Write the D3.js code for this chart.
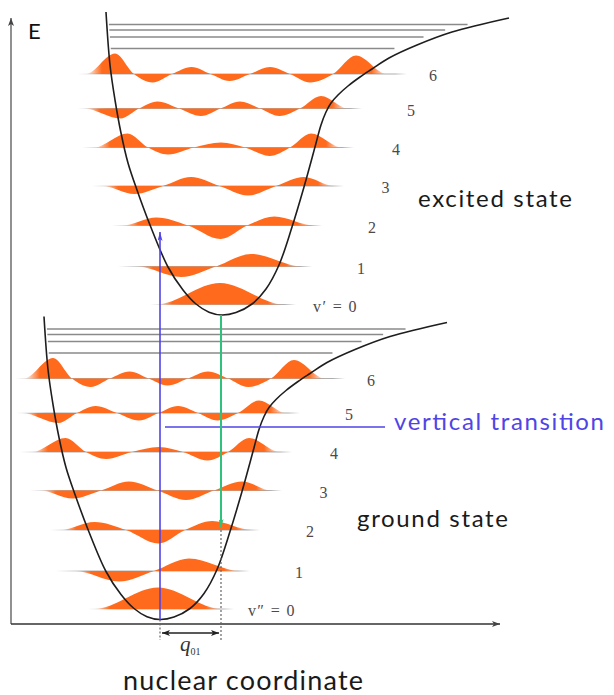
<!DOCTYPE html>
<html>
<head>
<meta charset="utf-8">
<script src="https://cdn.jsdelivr.net/npm/d3@7"></script>
<style>
  body { margin: 0; background: #fff; }
  svg { display: block; }
</style>
</head>
<body>
<svg></svg>
<script>
var width = 614;
var height = 695;
var svg = d3.select("svg")
            .attr("width", width)
            .attr("height", height);

// nuclear coordinate q and energy E, arbitrary units
var xScale = d3.scaleLinear().domain([0, 489]).range([11, 500]);
var yScale = d3.scaleLinear().domain([0, 606]).range([624, 18]);

// shape of both potential wells, relative to the minimum: [dq, dE]
var wellShape = [[-116, 303], [-112, 250], [-107, 215], [-101, 182], [-94, 152], [-85, 125],
                 [-72, 90], [-54, 48], [-39, 25], [-26, 11], [-13, 2.8], [0, 0], [14, 2.5],
                 [30, 11], [44, 26], [57, 50], [70, 88], [82, 128], [93, 168], [99, 190],
                 [104, 203], [109, 212], [116, 220], [126, 229], [138, 238], [150, 246],
                 [167, 257], [195, 270], [230, 283], [287, 297]];

var states = ["ground", "excited"];
var stateMinQ = [149, 211];
var stateMinE = [4.5, 309];
var stateZeroLabel = ["v\u2033 = 0", "v\u2032 = 0"];

// vibrational levels (energy above the well minimum)
var levels = [0, 1, 2, 3, 4, 5, 6];
var levelE = [10.5, 48.5, 89.5, 129, 167.5, 206.5, 241];
var upperLevelE = [266.5, 278, 285, 290.5];

// wavefunction lobes [dq, amplitude] and zero crossings, per level
var psiLobes = [
  [[-2, 21.5]],
  [[-41, -10.5], [29, 12.5]],
  [[-65.5, 8], [-1.5, -13.5], [52.5, 9]],
  [[-87.5, -8], [-31, 9], [26, -9.5], [82, 9]],
  [[-94.5, 14], [-54, -7], [-1, 5], [47.5, -8.5], [89, 14]],
  [[-101.5, -10], [-64.5, 7], [-21, -7.5], [18, 7], [57.5, -7.5], [99, 12.5]],
  [[-107, 20.5], [-69.5, -8.5], [-30.5, 7], [7.5, -7], [48, 7], [88, -8.5], [134, 18.5]]
];
var psiNodes = [
  [],
  [-6],
  [-34, 25],
  [-59, -2.5, 54],
  [-74, -28, 23, 68],
  [-83, -43, -1.5, 38, 78],
  [-88, -50, -11.5, 28, 68, 111]
];
var psiSpan = [[-66, 62], [-85, 80], [-100, 92], [-120, 112], [-128, 120], [-138, 126], [-136, 165]];
var lineSpan = [[-72, 74], [-104, 90], [-110, 100], [-130, 122], [-140, 132], [-144, 140], [-144, 185]];
var labelDq = [136, 139, 150, 163.5, 174, 189, 211];

// transitions
var verticalQ = 149, verticalTopE = 392, verticalLabelE = 197;
var relaxQ = 210, relaxBottomE = 96;
var q01E = -9, dottedBottomE = -16;

var orange = "#ff6a1c";
var blue = "#4f44e6";
var green = "#2fc27c";

var defs = svg.append("defs");

function arrowMarker(id, color, len, wid) {
  defs.append("marker")
      .attr("id", id)
      .attr("viewBox", "0 0 10 10")
      .attr("refX", 10).attr("refY", 5)
      .attr("markerUnits", "userSpaceOnUse")
      .attr("markerWidth", len).attr("markerHeight", wid)
      .attr("preserveAspectRatio", "none")
      .attr("orient", "auto-start-reverse")
    .append("path")
      .attr("d", "M0,0 L10,5 L0,10 L2.5,5 Z")
      .attr("fill", color);
}
arrowMarker("arrAxis", "#444", 8, 6);
arrowMarker("arrBlue", blue, 9, 5);
arrowMarker("arrGreen", green, 9, 5);
arrowMarker("arrBlack", "#222", 8, 6);

// axes
svg.append("line")
   .attr("x1", xScale(0)).attr("y1", yScale(0))
   .attr("x2", xScale(0)).attr("y2", yScale(606))
   .attr("stroke", "#555").attr("stroke-width", 1.3)
   .attr("marker-end", "url(#arrAxis)");
svg.append("line")
   .attr("x1", xScale(0)).attr("y1", yScale(0))
   .attr("x2", xScale(489)).attr("y2", yScale(0))
   .attr("stroke", "#333").attr("stroke-width", 1.5)
   .attr("marker-end", "url(#arrAxis)");

var wellLine = d3.line()
   .x(function(d) { return xScale(d[0]); })
   .y(function(d) { return yScale(d[1]); })
   .curve(d3.curveCatmullRom.alpha(0.5));

var psiArea = d3.area()
   .x(function(d) { return xScale(d[0]); })
   .y0(function(d) { return yScale(d[2]); })
   .y1(function(d) { return yScale(d[1]); })
   .curve(d3.curveMonotoneX);

// q of the well wall at height dE (linear between shape points)
function wallQ(dE, side) {
  var pts = wellShape.filter(function(p) { return side < 0 ? p[0] <= 0 : p[0] >= 0; });
  if (side < 0) pts = pts.slice().reverse();
  for (var i = 1; i < pts.length; i++) {
    if (pts[i][1] >= dE) {
      var t = (dE - pts[i - 1][1]) / (pts[i][1] - pts[i - 1][1]);
      return pts[i - 1][0] + t * (pts[i][0] - pts[i - 1][0]);
    }
  }
  return pts[pts.length - 1][0];
}

function fadeGradient(id, x1, x2, color, fadeL, fadeR, op) {
  var g = defs.append("linearGradient")
      .attr("id", id)
      .attr("gradientUnits", "userSpaceOnUse")
      .attr("x1", x1).attr("x2", x2).attr("y1", 0).attr("y2", 0);
  var w = x2 - x1;
  [[0, 0], [fadeL / w, op], [1 - fadeR / w, op], [1, 0]].forEach(function(s) {
    g.append("stop").attr("offset", s[0]).attr("stop-color", color).attr("stop-opacity", s[1]);
  });
}

states.forEach(function(state, s) {
  var q0 = stateMinQ[s], e0 = stateMinE[s];
  var g = svg.append("g").attr("class", state);

  // closely spaced upper levels
  upperLevelE.forEach(function(dE) {
    g.append("line")
     .attr("x1", xScale(q0 + wallQ(dE, -1) + 2))
     .attr("x2", xScale(q0 + wallQ(dE, 1)) - 15)
     .attr("y1", yScale(e0 + dE)).attr("y2", yScale(e0 + dE))
     .attr("stroke", "#8a8a8a").attr("stroke-width", 1.3);
  });

  levels.forEach(function(v, i) {
    var base = e0 + levelE[i];
    var lx1 = xScale(q0 + lineSpan[i][0]), lx2 = xScale(q0 + lineSpan[i][1]);
    fadeGradient("base-" + state + v, lx1, lx2, "#9a9a9a", 30, 12, 0.8);
    g.append("line")
     .attr("x1", lx1).attr("x2", lx2)
     .attr("y1", yScale(base)).attr("y2", yScale(base))
     .attr("stroke", "url(#base-" + state + v + ")").attr("stroke-width", 1.2);

    var pts = [[lineSpan[i][0], 0], [psiSpan[i][0], 0]];
    psiLobes[i].forEach(function(l, k) {
      pts.push(l);
      if (k < psiNodes[i].length) pts.push([psiNodes[i][k], 0]);
    });
    pts.push([psiSpan[i][1], 0], [lineSpan[i][1], 0]);
    var data = pts.map(function(p) { return [q0 + p[0], base + p[1], base]; });

    var px1 = xScale(q0 + psiSpan[i][0]), px2 = xScale(q0 + psiSpan[i][1]);
    fadeGradient("psi-" + state + v, px1, px2, orange, 16, 16, 1);
    g.append("path")
     .datum(data)
     .attr("d", psiArea)
     .attr("fill", "url(#psi-" + state + v + ")");

    var lbl = g.append("text")
     .attr("x", xScale(q0 + labelDq[i]))
     .attr("y", yScale(base) + 7)
     .attr("font-family", "'Liberation Serif', 'DejaVu Serif', serif")
     .attr("font-size", 16)
     .attr("fill", "#4a4a4a");
    if (v === 0) {
      lbl.attr("text-anchor", "end").attr("letter-spacing", 1.4)
         .text(stateZeroLabel[s]);
    } else {
      lbl.attr("text-anchor", "middle").text(v);
    }
  });

  g.append("path")
   .datum(wellShape.map(function(p) { return [q0 + p[0], e0 + p[1]]; }))
   .attr("d", wellLine)
   .attr("fill", "none")
   .attr("stroke", "#1e1e1e")
   .attr("stroke-width", 1.6);
});

// vertical transition (blue) and relaxation (green)
svg.append("line")
   .attr("x1", xScale(verticalQ)).attr("x2", xScale(verticalQ))
   .attr("y1", yScale(stateMinE[0])).attr("y2", yScale(verticalTopE))
   .attr("stroke", blue).attr("stroke-width", 1.6)
   .attr("marker-end", "url(#arrBlue)");
svg.append("line")
   .attr("x1", xScale(verticalQ) + 5).attr("x2", xScale(374))
   .attr("y1", yScale(verticalLabelE)).attr("y2", yScale(verticalLabelE))
   .attr("stroke", blue).attr("stroke-width", 1.4);
svg.append("line")
   .attr("x1", xScale(relaxQ)).attr("x2", xScale(relaxQ))
   .attr("y1", yScale(stateMinE[1])).attr("y2", yScale(relaxBottomE))
   .attr("stroke", green).attr("stroke-width", 2)
   .attr("marker-end", "url(#arrGreen)");

// dotted guides and displacement q01
[[verticalQ, stateMinE[0]], [relaxQ, relaxBottomE - 2]].forEach(function(d) {
  svg.append("line")
     .attr("x1", xScale(d[0])).attr("x2", xScale(d[0]))
     .attr("y1", yScale(d[1])).attr("y2", yScale(dottedBottomE))
     .attr("stroke", "#666").attr("stroke-width", 1.2)
     .attr("stroke-dasharray", "2,2");
});
svg.append("line")
   .attr("x1", xScale(verticalQ) + 2).attr("x2", xScale(relaxQ) - 2)
   .attr("y1", yScale(q01E)).attr("y2", yScale(q01E))
   .attr("stroke", "#222").attr("stroke-width", 1.4)
   .attr("marker-start", "url(#arrBlack)")
   .attr("marker-end", "url(#arrBlack)");

var q01 = svg.append("text")
   .attr("x", 180).attr("y", 651)
   .attr("font-family", "'Liberation Serif', serif")
   .attr("font-size", 21).attr("fill", "#333");
q01.append("tspan").attr("font-style", "italic").text("q");
q01.append("tspan").attr("font-size", 10).attr("dy", 4).text("01");

// text labels [text, x, baseline y, font size, width, colour]
var labels = [
  ["excited state", 418, 207, 24, 154, "#1a1a1a"],
  ["ground state", 357, 527, 24, 151, "#1a1a1a"],
  ["vertical transition", 394, 430, 24, 210, blue],
  ["nuclear coordinate", 123, 690, 27, 240, "#1a1a1a"]
];
var sans = "Lato, 'Open Sans', sans-serif";
svg.append("text").attr("x", 28).attr("y", 39)
   .attr("font-family", sans).attr("font-size", 22).attr("fill", "#111").text("E");
labels.forEach(function(l) {
  svg.append("text")
     .attr("x", l[1]).attr("y", l[2])
     .attr("font-family", sans).attr("font-size", l[3])
     .attr("textLength", l[4]).attr("lengthAdjust", "spacing")
     .attr("fill", l[5]).text(l[0]);
});
</script>
</body>
</html>
